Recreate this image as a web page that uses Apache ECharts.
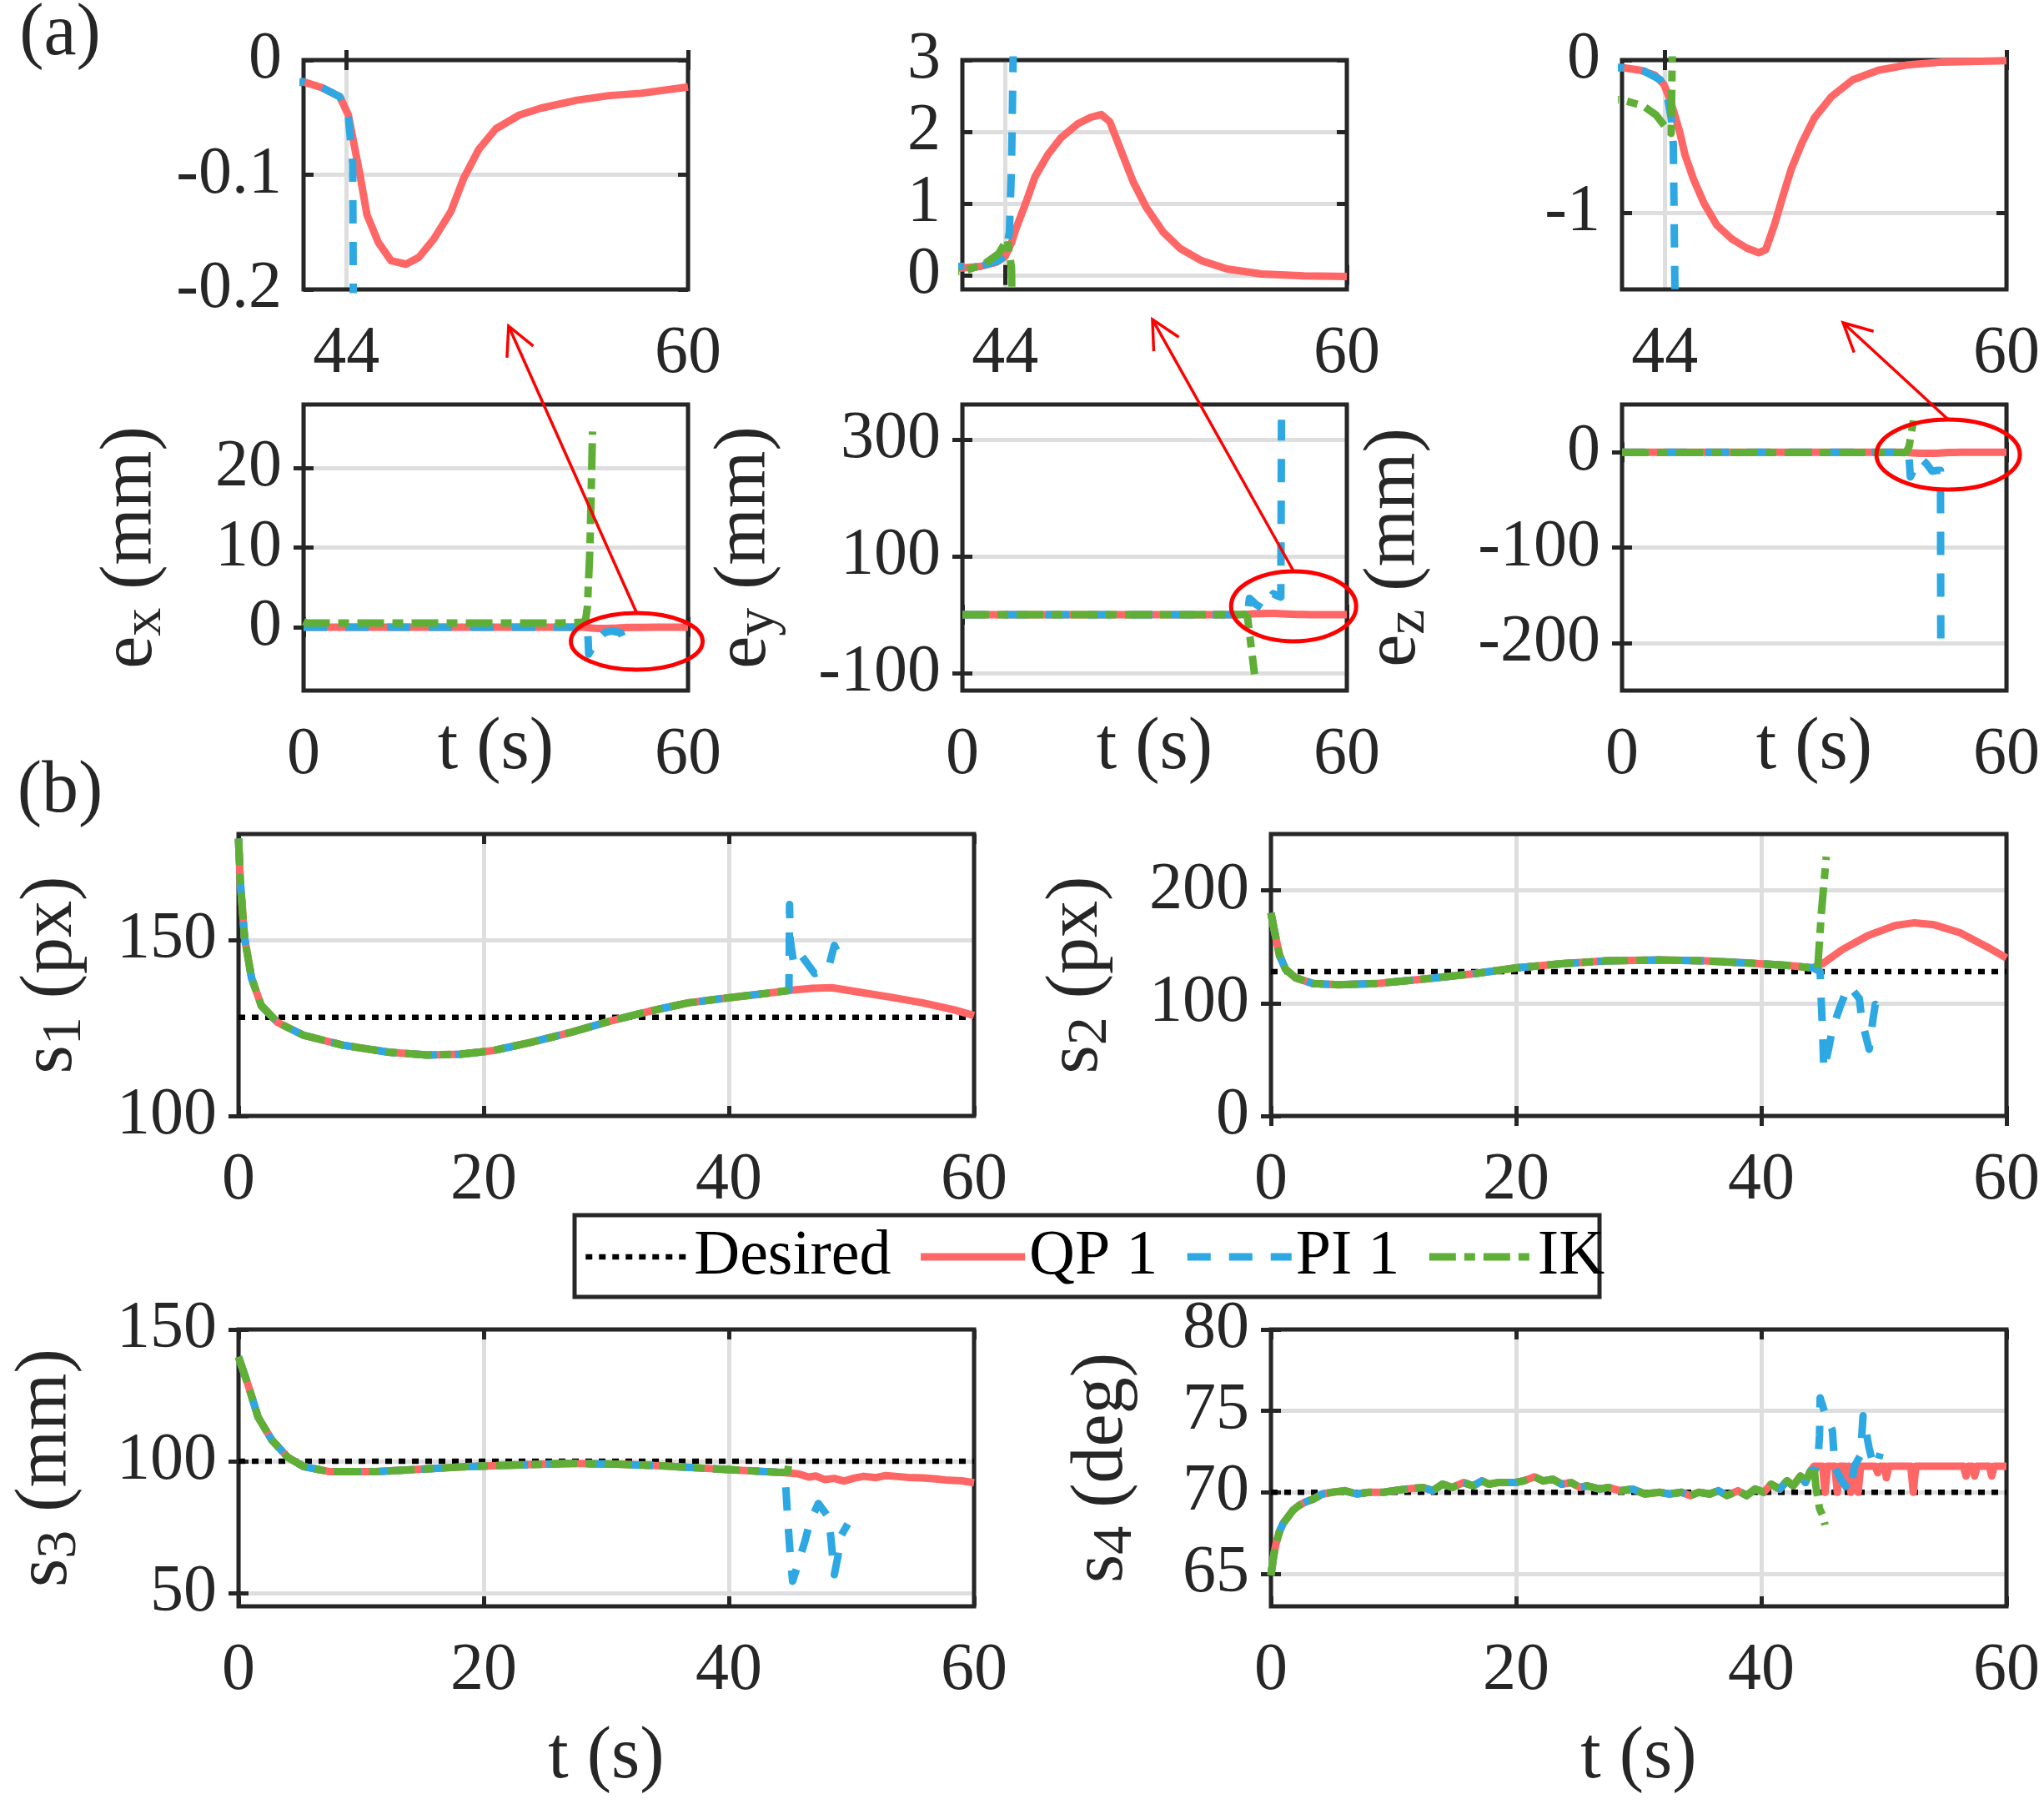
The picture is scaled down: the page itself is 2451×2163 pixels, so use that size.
<!DOCTYPE html>
<html><head><meta charset="utf-8">
<script src="https://cdn.jsdelivr.net/npm/echarts@6/dist/echarts.min.js"></script>
<style>html,body{margin:0;padding:0;background:#fff}#c{width:2451px;height:2163px}</style>
</head><body><div id="c"></div>
<script>
// ================= DATA =================
// (a) end-effector errors e_x, e_y, e_z vs time (t in s, value in mm)
const EX_QP = [[0,-0.02],[10,-0.02],[20,-0.02],[30,-0.02],[40,-0.02],[42,-0.019],[42.85,-0.024],[43.7,-0.032],[44.1,-0.048],[44.4,-0.077],[44.65,-0.101],[44.97,-0.135],[45.5,-0.159],[46.1,-0.175],[46.8,-0.178],[47.4,-0.172],[48.1,-0.156],[48.9,-0.132],[49.5,-0.103],[50.2,-0.078],[51.0,-0.060],[52.1,-0.048],[53.1,-0.042],[54.8,-0.035],[56.3,-0.031],[57.8,-0.029],[60,-0.0235]];
const EX_PI = [[0,-0.03],[10,-0.03],[20,-0.03],[30,-0.03],[40,-0.025],[42,-0.019],[42.85,-0.024],[43.7,-0.032],[44.1,-0.05],[44.3,-0.09],[44.35,-0.3],[44.5,-3.4],[45.2,-2.4],[46.0,-1.5],[47.0,-0.7],[48.0,-0.5],[49.5,-0.7],[49.9,-1.5]];
const EX_IK = [[0,0.7],[0.5,0.5],[10,0.5],[20,0.5],[30,0.5],[40,0.5],[43.5,0.6],[44.0,0.8],[44.3,2.5],[44.7,10],[45.1,24.6]];

const EY_QP = [[0,0.1],[10,0.1],[20,0.1],[30,0.1],[40,0.1],[42,0.10],[42.85,0.12],[43.6,0.18],[44.0,0.26],[44.3,0.45],[44.5,0.64],[44.95,0.99],[45.4,1.37],[46.0,1.68],[46.6,1.91],[47.4,2.11],[48.0,2.20],[48.5,2.24],[48.9,2.14],[49.5,1.68],[50.0,1.30],[50.6,0.95],[51.4,0.60],[52.2,0.37],[53.2,0.20],[54.4,0.085],[56.0,0.015],[58.0,-0.01],[60,-0.02]];
const EY_PI = [[0,0.12],[10,0.12],[20,0.12],[30,0.12],[40,0.12],[42,0.12],[43,0.14],[43.7,0.2],[44.0,0.28],[44.2,0.6],[44.3,1.5],[44.4,3.5],[44.6,10],[44.8,28],[45.8,18],[46.9,10],[47.6,22],[48.5,36],[49.2,32],[49.7,30],[49.8,334]];
const EY_IK = [[0,0.05],[10,0.05],[20,0.05],[30,0.05],[40,0.05],[42,0.05],[43,0.15],[43.7,0.3],[44.1,0.5],[44.3,0.1],[44.5,-4],[45.6,-102]];

const EZ_QP = [[0,-0.05],[10,-0.05],[20,-0.05],[30,-0.05],[40,-0.05],[42,-0.049],[42.86,-0.067],[43.55,-0.10],[43.95,-0.157],[44.2,-0.24],[44.45,-0.35],[44.7,-0.47],[44.95,-0.62],[45.35,-0.78],[45.85,-0.94],[46.44,-1.08],[47.14,-1.17],[47.84,-1.23],[48.4,-1.26],[48.73,-1.24],[49.13,-1.08],[49.53,-0.89],[49.93,-0.71],[50.43,-0.54],[51.0,-0.38],[51.8,-0.24],[52.8,-0.13],[54.0,-0.067],[55.4,-0.031],[57.0,-0.013],[60,-0.004]];
const EZ_PI = [[0,-0.05],[10,-0.05],[20,-0.05],[30,-0.05],[40,-0.05],[42,-0.049],[43,-0.07],[43.8,-0.13],[44.1,-0.22],[44.3,-0.38],[44.4,-0.55],[44.6,-3],[44.8,-6],[45.0,-26],[45.8,-15],[46.7,-7],[47.5,-12],[48.4,-20],[49.2,-19],[49.7,-19],[49.75,-209]];
const EZ_IK = [[0,-0.25],[10,-0.25],[20,-0.25],[30,-0.25],[40,-0.25],[42,-0.26],[43,-0.3],[43.6,-0.36],[44.1,-0.45],[44.3,-0.48],[44.4,0.5],[44.8,6],[45.5,34]];

// (b) image features s1..s4 vs time
const S1_COMMON = [[0,178.7],[0.15,166.3],[0.5,150.4],[1.06,139.2],[1.86,131.3],[3.2,126.5],[5.3,122.9],[8.5,120.1],[12.2,118.1],[15.4,117.3],[18.1,117.5],[20.7,118.5],[23.9,120.9],[27.1,123.7],[30.3,126.9],[33.5,129.7],[36.7,132.1],[39.9,133.5],[43.1,134.8],[44.9,135.6]];
const S1_QP_TAIL = [[46.8,136.2],[48.4,136.4],[50.5,135.2],[53.2,133.7],[55.8,132.1],[58.4,130.1],[60,128.5]];
const S1_PI_TAIL = [[44.95,160],[45.0,150],[45.3,143],[45.9,145.6],[47.0,140.4],[48.1,141.6],[48.6,148.4],[49.1,144.8]];
const S1_DESIRED = [[0,128],[60,128]];

const S2_COMMON = [[0,180],[0.27,165],[0.7,142.5],[1.2,130],[2.0,122.5],[3.4,117.5],[5.5,116.3],[8.7,117.5],[12.4,121.3],[16.7,126.3],[20,131.3],[23.7,135],[27.4,137.5],[31.7,138.3],[35.4,137.5],[39.1,135.5],[42.3,133.3],[44.2,131.3]];
const S2_QP_TAIL = [[45.0,135],[46.6,147.5],[48.7,160],[50.9,168.8],[52.5,171.3],[54.1,169.5],[56.2,162.5],[58.4,150],[60,140]];
const S2_PI_TAIL = [[44.8,128],[44.9,100],[45.0,75],[45.1,41],[45.5,60],[45.8,77],[46.4,96],[46.9,110],[47.2,115],[48.0,104],[48.2,85],[48.8,59],[49.1,85],[49.3,99],[49.8,92]];
const S2_IK_TAIL = [[44.6,131],[44.9,180],[45.3,230]];
const S2_DESIRED = [[0,128],[60,128]];

const S3_COMMON = [[0,139.6],[0.8,128.7],[1.6,116.7],[2.7,108.2],[4.0,101.6],[5.3,98.0],[7.4,96.1],[11.2,96.1],[14.9,97.0],[18.6,98.0],[22.8,98.6],[27.1,99.2],[30.8,98.9],[34.5,98.3],[38.2,97.3],[41.4,96.5],[44.1,95.8]];
const S3_QP_TAIL = [[45.0,95.5],[45.7,95.2],[46.5,94.0],[47.1,94.4],[47.8,93.1],[48.6,93.5],[49.4,92.5],[50.2,93.6],[51.0,94.3],[52.0,93.8],[52.8,94.6],[53.6,94.3],[54.6,93.9],[55.8,93.7],[56.9,93.3],[57.9,92.8],[59.0,92.6],[60,91.9]];
const S3_PI_TAIL = [[44.6,93],[44.7,86],[44.8,78],[45.0,65],[45.2,54.5],[45.7,62],[46.2,69.6],[46.6,76.8],[47.3,84],[48.1,79],[48.3,72],[48.6,57],[48.9,64],[49.1,71.4],[49.7,76.2]];
const S3_IK_TAIL = [[44.8,96],[44.95,101.5]];
const S3_DESIRED = [[0,100],[60,100]];

const S4_COMMON = [[0,64.9],[0.2,66.0],[0.4,66.8],[0.7,67.6],[1.0,68.1],[1.4,68.5],[1.8,68.9],[2.3,69.2],[2.8,69.4],[3.5,69.6],[4.2,69.9],[5.0,70.0],[6.0,70.1],[7.0,69.9],[8.0,70.0],[9.2,70.0],[10.0,70.1],[11.0,70.2],[12.4,70.3],[13.2,70.1],[14.0,70.5],[14.8,70.3],[15.7,70.6],[16.5,70.4],[17.2,70.7],[17.8,70.5],[18.5,70.6],[19.9,70.6],[20.6,70.7],[21.5,70.95],[22.2,70.7],[23.0,70.8],[23.7,70.5],[24.5,70.6],[25.2,70.3],[25.8,70.4],[26.8,70.2],[27.5,70.3],[28.5,70.1],[29.5,70.2],[30.5,69.9],[31.7,70.0],[32.5,69.9],[33.5,70.0],[34.2,69.8],[34.9,70.0],[35.8,69.9],[36.5,70.1],[37.2,69.8],[38.1,70.1],[38.8,69.8],[39.5,70.2],[40.2,70.0],[40.8,70.5],[41.5,70.2],[42.1,70.7],[42.6,70.4],[43.2,71.0],[43.6,70.6],[44.0,71.3]];
const S4_QP_TAIL = [[44.3,71.6],[45.0,71.6],[45.2,70.0],[45.4,71.6],[46.0,71.6],[46.2,70.0],[46.4,71.6],[46.8,71.6],[47.0,70.7],[47.1,71.6],[47.2,71.6],[47.3,70.0],[47.5,71.6],[47.8,71.6],[47.9,70.0],[48.1,71.6],[49.3,71.6],[49.5,71.2],[49.7,71.6],[50.1,71.6],[50.2,70.9],[50.4,71.6],[52.2,71.6],[52.4,70.0],[52.6,71.6],[56.5,71.6],[56.7,71.0],[56.9,71.6],[57.2,71.6],[57.4,71.0],[57.6,71.6],[58.6,71.6],[58.8,71.0],[59.0,71.6],[60,71.6]];
const S4_PI_TAIL = [[44.4,71.4],[44.6,71.8],[44.75,73.5],[44.8,75.8],[45.3,74.6],[45.8,73.8],[46.0,71.5],[46.5,70.8],[47.2,70.0],[47.6,71.6],[48.1,72.3],[48.3,74.7],[48.8,72.7],[49.1,71.8],[49.4,71.6],[49.7,72.4]];
const S4_IK_TAIL = [[44.3,71.6],[44.45,70.4],[44.75,69.0],[45.0,68.6],[45.2,68.0]];
const S4_DESIRED = [[0,70],[60,70]];

// tick values
const X_TICKS_INSET = [44, 60];
const X_TICKS_A = [0, 60];
const X_TICKS_B = [0, 20, 40, 60];
const Y_TICKS = {
  I1: [-0.2, -0.1, 0], I2: [0, 1, 2, 3], I3: [-1, 0],
  M1: [0, 10, 20], M2: [-100, 100, 300], M3: [-200, -100, 0],
  S1: [100, 150], S2: [0, 100, 200], S3: [50, 100, 150], S4: [65, 70, 75, 80]
};
const Y_RANGE = {
  I1: [-0.2, 0], I2: [-0.2, 3], I3: [-1.5, 0],
  M1: [-8, 28], M2: [-130, 360], M3: [-250, 50],
  S1: [100, 180], S2: [0, 250], S3: [45, 150], S4: [63, 80]
};
const LEGEND_NAMES = ['Desired', 'QP 1', 'PI 1', 'IK'];

// ================= STYLE / LAYOUT =================
const FONT = '"Liberation Serif", "Times New Roman", serif';
const TXT = '#262626';
const STYLE = {
  'Desired': {color: '#000000', width: 6.5, type: [8, 8]},
  'QP 1': {color: '#FF6666', width: 9, type: 'solid'},
  'PI 1': {color: '#2DA8E2', width: 9, type: [28, 22]},
  'IK':   {color: '#5FAF37', width: 9, type: [32, 10, 13, 10]}
};
const RICH = {
  m: {fontFamily: FONT, fontSize: 88, color: TXT, lineHeight: 100},
  s: {fontFamily: FONT, fontSize: 68, color: TXT, lineHeight: 44, verticalAlign: 'bottom'}
};

const PANELS = [
  {key:'I1', grid:{left:364, top:72, width:461, height:275}, x:[42,60], xt:X_TICKS_INSET,
   ser:[['QP 1',EX_QP],['PI 1',EX_PI],['IK',EX_IK]]},
  {key:'I2', grid:{left:1154, top:72, width:461, height:275}, x:[42,60], xt:X_TICKS_INSET,
   ser:[['QP 1',EY_QP],['PI 1',EY_PI],['IK',EY_IK]]},
  {key:'I3', grid:{left:1945, top:72, width:461, height:275}, x:[42,60], xt:X_TICKS_INSET,
   ser:[['QP 1',EZ_QP],['PI 1',EZ_PI],['IK',EZ_IK]]},
  {key:'M1', grid:{left:364, top:485, width:461, height:343}, x:[0,60], xt:X_TICKS_A,
   ser:[['QP 1',EX_QP],['PI 1',EX_PI],['IK',EX_IK]], xName:'t (s)', xGap:26,
   yName:'{m|e}{s|x}{m| (mm)}', yGap:156},
  {key:'M2', grid:{left:1154, top:485, width:461, height:343}, x:[0,60], xt:X_TICKS_A,
   ser:[['QP 1',EY_QP],['PI 1',EY_PI],['IK',EY_IK]], xName:'t (s)', xGap:26,
   yName:'{m|e}{s|y}{m| (mm)}', yGap:210},
  {key:'M3', grid:{left:1945, top:485, width:461, height:343}, x:[0,60], xt:X_TICKS_A,
   ser:[['QP 1',EZ_QP],['PI 1',EZ_PI],['IK',EZ_IK]], xName:'t (s)', xGap:26,
   yName:'{m|e}{s|z}{m| (mm)}', yGap:222},
  {key:'S1', grid:{left:286, top:1000, width:882, height:338}, x:[0,60], xt:X_TICKS_B,
   ser:[['Desired',S1_DESIRED],['QP 1',S1_COMMON.concat(S1_QP_TAIL)],['PI 1',S1_COMMON.concat(S1_PI_TAIL)],['IK',S1_COMMON]],
   yName:'{m|s}{s|1}{m| (px)}', yGap:174},
  {key:'S2', grid:{left:1524, top:1000, width:882, height:338}, x:[0,60], xt:X_TICKS_B,
   ser:[['Desired',S2_DESIRED],['QP 1',S2_COMMON.concat(S2_QP_TAIL)],['PI 1',S2_COMMON.concat(S2_PI_TAIL)],['IK',S2_COMMON.concat(S2_IK_TAIL)]],
   yName:'{m|s}{s|2}{m| (px)}', yGap:182},
  {key:'S3', grid:{left:286, top:1594, width:882, height:332}, x:[0,60], xt:X_TICKS_B,
   ser:[['Desired',S3_DESIRED],['QP 1',S3_COMMON.concat(S3_QP_TAIL)],['PI 1',S3_COMMON.concat(S3_PI_TAIL)],['IK',S3_COMMON.concat(S3_IK_TAIL)]],
   xName:'t (s)', xGap:138, yName:'{m|s}{s|3}{m| (mm)}', yGap:180},
  {key:'S4', grid:{left:1524, top:1594, width:882, height:332}, x:[0,60], xt:X_TICKS_B,
   ser:[['Desired',S4_DESIRED],['QP 1',S4_COMMON.concat(S4_QP_TAIL)],['PI 1',S4_COMMON.concat(S4_PI_TAIL)],['IK',S4_COMMON.concat(S4_IK_TAIL)]],
   xName:'t (s)', xGap:138, yName:'{m|s}{s|4}{m| (deg)}', yGap:152}
];

const grids = [], xAxes = [], yAxes = [], series = [];
const tickStyle = {show: true, inside: true, length: 12, lineStyle: {color: TXT, width: 5}};
const labelStyle = {fontFamily: FONT, fontSize: 80, color: TXT};
PANELS.forEach((p, i) => {
  const yr = Y_RANGE[p.key], yt = Y_TICKS[p.key];
  grids.push(Object.assign({show: true, z: 1, borderColor: TXT, borderWidth: 5,
    backgroundColor: 'transparent', containLabel: false, outerBoundsMode: 'none'}, p.grid));
  xAxes.push({type: 'value', gridIndex: i, min: p.x[0], max: p.x[1], position: 'bottom',
    axisLine: {show: false},
    axisTick: Object.assign({customValues: p.xt}, tickStyle),
    axisLabel: Object.assign({show: true, customValues: p.xt, margin: 38}, labelStyle),
    splitLine: {show: true, lineStyle: {color: '#DEDEDE', width: 5}},
    name: p.xName || '', nameLocation: 'middle', nameGap: p.xGap || 30, nameMoveOverlap: false,
    nameTextStyle: {fontFamily: FONT, fontSize: 88, color: TXT}});
  yAxes.push({type: 'value', gridIndex: i, min: yr[0], max: yr[1], position: 'left',
    axisLine: {show: false},
    axisTick: Object.assign({customValues: yt}, tickStyle),
    axisLabel: Object.assign({show: true, customValues: yt, margin: 26}, labelStyle),
    splitLine: {show: true, lineStyle: {color: '#DEDEDE', width: 5}},
    name: p.yName || '', nameLocation: 'middle', nameRotate: 90, nameGap: p.yGap || 100,
    nameMoveOverlap: false, nameTextStyle: {rich: RICH}});
  p.ser.forEach(([name, data]) => {
    const st = STYLE[name];
    series.push({type: 'line', name: name, xAxisIndex: i, yAxisIndex: i, data: data,
      symbol: 'none', showSymbol: false, clip: true, silent: true, animation: false,
      color: st.color, itemStyle: {color: st.color},
      lineStyle: {color: st.color, width: st.width, type: st.type, cap: 'butt', join: 'round'},
      emphasis: {disabled: true}});
  });
});
// mirrored tick marks (top / right) like a boxed MATLAB axes
PANELS.forEach((p, i) => {
  const yr = Y_RANGE[p.key], yt = Y_TICKS[p.key];
  xAxes.push({type: 'value', gridIndex: i, min: p.x[0], max: p.x[1], position: 'top',
    axisLine: {show: false}, axisLabel: {show: false}, splitLine: {show: false},
    axisTick: Object.assign({customValues: p.xt}, tickStyle)});
  yAxes.push({type: 'value', gridIndex: i, min: yr[0], max: yr[1], position: 'right',
    axisLine: {show: false}, axisLabel: {show: false}, splitLine: {show: false},
    axisTick: Object.assign({customValues: yt}, tickStyle)});
});

const chart = echarts.init(document.getElementById('c'), null, {renderer: 'canvas', width: 2451, height: 2163});
chart.setOption({
  backgroundColor: '#ffffff',
  animation: false,
  grid: grids, xAxis: xAxes, yAxis: yAxes, series: series,
  legend: {
    data: LEGEND_NAMES.map(n => ({name: n, itemStyle: {opacity: 0},
      lineStyle: {color: STYLE[n].color, width: STYLE[n].width, type: STYLE[n].type, cap: 'butt'}})),
    left: 694, top: 1462, orient: 'horizontal', itemWidth: 125, itemHeight: 30, itemGap: 31,
    padding: 5, selectedMode: false,
    textStyle: {fontFamily: FONT, fontSize: 76, color: '#000', lineHeight: 80}
  }
});

// annotations: zoom ellipses in main (a) panels with arrows pointing to the insets
const ZOOM_MARKS = [
  {main: 3, inset: 0, center: [52.0, -1.8], rx: 79, ry: 34, head: [51.6, -0.232]},
  {main: 4, inset: 1, center: [51.7, 14.3], rx: 75, ry: 42, head: [50.9, -0.62]},
  {main: 5, inset: 2, center: [50.9, -2.5], rx: 86, ry: 42, head: [52.35, -1.718]}
];
const graphics = [];
ZOOM_MARKS.forEach(m => {
  const c = chart.convertToPixel({xAxisIndex: m.main, yAxisIndex: m.main}, m.center);
  const h = chart.convertToPixel({xAxisIndex: m.inset, yAxisIndex: m.inset}, m.head);
  const t = [c[0], c[1] - m.ry];
  graphics.push({type: 'ellipse', z: 100, silent: true, shape: {cx: c[0], cy: c[1], rx: m.rx, ry: m.ry},
    style: {fill: 'none', stroke: '#FF0000', lineWidth: 5}});
  graphics.push({type: 'line', z: 100, silent: true, shape: {x1: t[0], y1: t[1], x2: h[0], y2: h[1]},
    style: {stroke: '#FF0000', lineWidth: 3.5}});
  const dx = t[0] - h[0], dy = t[1] - h[1], L = Math.hypot(dx, dy);
  const ux = dx / L, uy = dy / L, a = 27 * Math.PI / 180, len = 38;
  const arm = s => [h[0] + len * (ux * Math.cos(s * a) - uy * Math.sin(s * a)),
                    h[1] + len * (ux * Math.sin(s * a) + uy * Math.cos(s * a))];
  graphics.push({type: 'polyline', z: 100, silent: true, shape: {points: [arm(1), h, arm(-1)]},
    style: {fill: 'none', stroke: '#FF0000', lineWidth: 3.5}});
});
graphics.push({type: 'rect', z: 0, silent: true, shape: {x: 689, y: 1457, width: 1229, height: 98},
  style: {fill: '#ffffff', stroke: TXT, lineWidth: 5}});
graphics.push({type: 'text', z: 100, silent: true, x: 72, y: 42,
  style: {text: '(a)', fontFamily: FONT, fontSize: 88, fill: TXT, align: 'center', verticalAlign: 'middle'}});
graphics.push({type: 'text', z: 100, silent: true, x: 72, y: 950,
  style: {text: '(b)', fontFamily: FONT, fontSize: 88, fill: TXT, align: 'center', verticalAlign: 'middle'}});
chart.setOption({graphic: graphics});
</script></body></html>
